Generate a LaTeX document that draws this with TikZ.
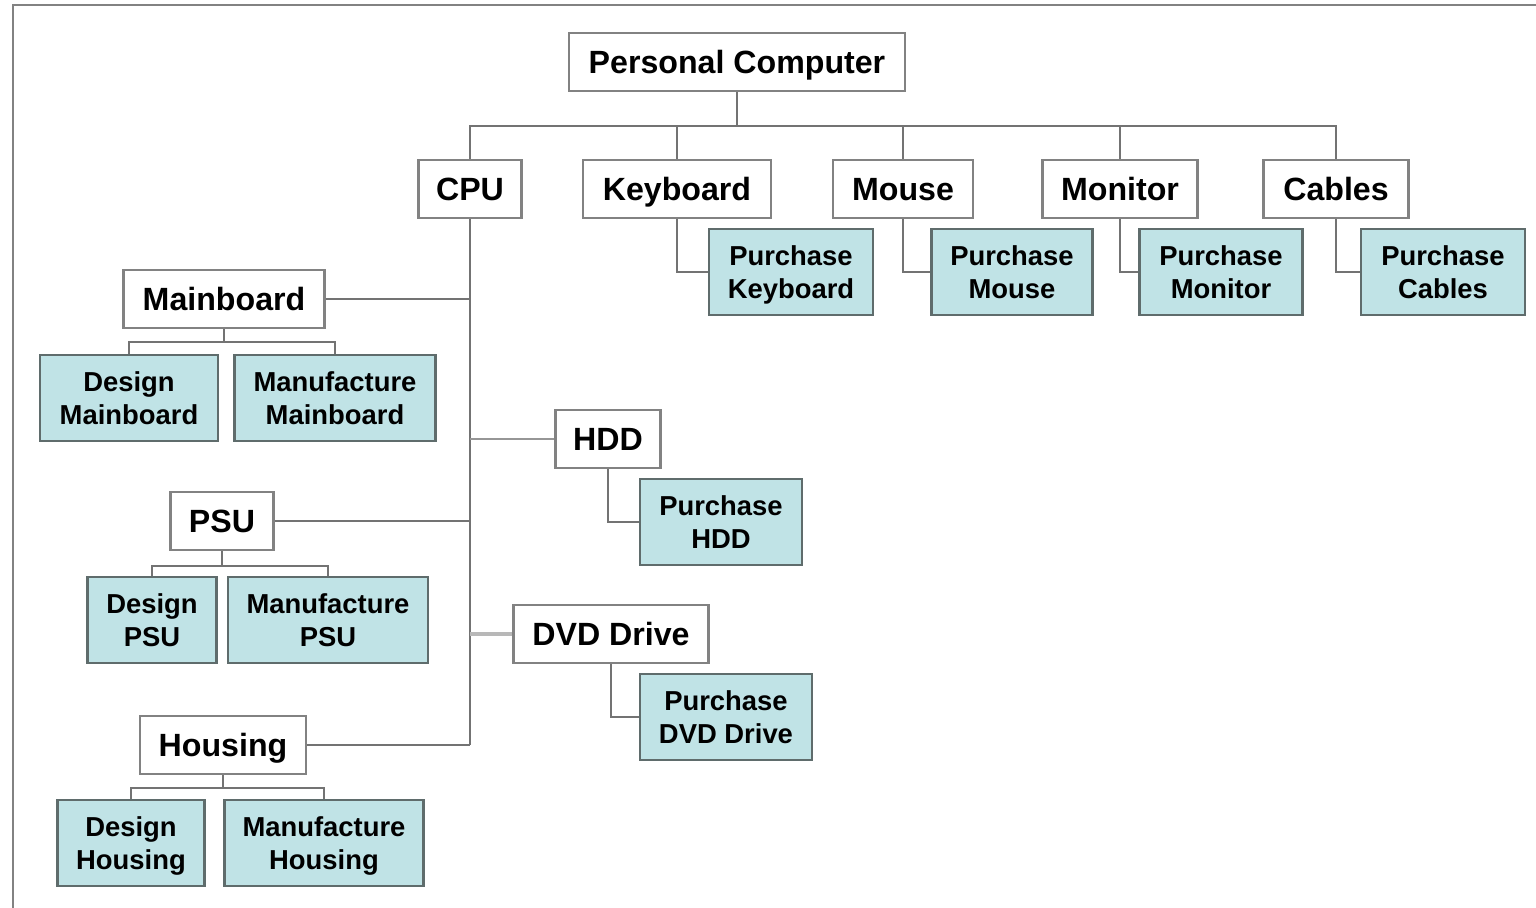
\documentclass[tikz,border=0pt]{standalone}
\usepackage{fontspec}
\setmainfont{Liberation Sans}
\usepackage{xcolor}
\definecolor{linegray}{RGB}{115,115,115}
\definecolor{boxgray}{RGB}{130,130,130}
\definecolor{workfill}{RGB}{192,227,230}
\definecolor{workline}{RGB}{95,108,108}

\begin{document}
\begin{tikzpicture}[x=0.02cm, y=-0.02cm, draw=linegray, line width=1.1pt]
    \tikzstyle{part}=[rectangle, draw=boxgray, fill=white, line width=1.2pt, minimum height=1.16cm, inner sep=2pt, text height=13.1pt, text depth=0pt, font=\fontsize{18.3}{20}\selectfont\bfseries]
    \tikzstyle{work}=[rectangle, draw=workline, fill=workfill, line width=1.2pt, minimum height=1.72cm, inner sep=2pt, align=center, text depth=0pt, font=\fontsize{15.6}{18.8}\selectfont\bfseries]
    \tikzstyle{frame}=[draw=boxgray, line width=1.6pt]

    \useasboundingbox (0,0) rectangle (1536,908);

    % Frame round the chart (only top and left are seen)
    \draw[frame] (13,908) -- (13,5) -- (1536,5);

    % Draw the top product and the first level
    \node[part, minimum width=6.72cm] (pc) at (737,62) {Personal Computer};
    \node[part, minimum width=2.06cm] (cpu) at (470,189) {CPU};
    \node[part, minimum width=3.76cm] (kbd) at (677,189) {Keyboard};
    \node[part, minimum width=2.8cm] (mouse) at (903,189) {Mouse};
    \node[part, minimum width=3.1cm] (mon) at (1120,189) {Monitor};
    \node[part, minimum width=2.9cm] (cab) at (1336,189) {Cables};

    % Draw the purchase work boxes
    \node[work, minimum width=3.28cm] (pkbd) at (791,272) {Purchase\\Keyboard};
    \node[work, minimum width=3.22cm] (pmouse) at (1012,272) {Purchase\\Mouse};
    \node[work, minimum width=3.26cm] (pmon) at (1221,272) {Purchase\\Monitor};
    \node[work, minimum width=3.28cm] (pcab) at (1443,272) {Purchase\\Cables};

    % Draw the parts of the CPU
    \node[part, minimum width=4.02cm] (mb) at (224,299) {Mainboard};
    \node[part, minimum width=2.1cm] (hdd) at (608,439) {HDD};
    \node[part, minimum width=2.06cm] (psu) at (222,521) {PSU};
    \node[part, minimum width=3.9cm] (dvd) at (611,634) {DVD Drive};
    \node[part, minimum width=3.32cm] (hou) at (223,745) {Housing};

    % Draw the work boxes under the CPU parts
    \node[work, minimum width=3.56cm] (dmb) at (129,398) {Design\\Mainboard};
    \node[work, minimum width=4.02cm] (mmb) at (335,398) {Manufacture\\Mainboard};
    \node[work, minimum width=3.24cm] (phdd) at (721,522) {Purchase\\HDD};
    \node[work, minimum width=2.58cm] (dpsu) at (152,620) {Design\\PSU};
    \node[work, minimum width=4.0cm] (mpsu) at (328,620) {Manufacture\\PSU};
    \node[work, minimum width=3.44cm] (pdvd) at (726,717) {Purchase\\DVD Drive};
    \node[work, minimum width=2.94cm] (dhou) at (131,843) {Design\\Housing};
    \node[work, minimum width=3.98cm] (mhou) at (324,843) {Manufacture\\Housing};

    % Connect the top product with the first level
    \foreach \dest in {cpu,kbd,mouse,mon,cab}
        \draw (pc.south) -- ++(0,34) -| (\dest.north);

    % Connect every bought part with its purchase box
    \foreach \source/\dest in {kbd/pkbd,mouse/pmouse,mon/pmon,cab/pcab,hdd/phdd,dvd/pdvd}
        \draw (\source.south) |- (\dest.west);

    % Trunk of the CPU
    \draw (cpu.south) -- (cpu.south |- hou.east);
    \foreach \source in {mb,psu,hou}
        \draw (\source.east) -- (\source.east -| cpu.south);
    \draw[draw=linegray!75] (hdd.west) -- (hdd.west -| cpu.south);
    \draw[draw=black!28, line width=2.2pt] (dvd.west) -- (dvd.west -| cpu.south);

    % Connect the made parts with design and manufacture
    \foreach \source/\drop/\destA/\destB in {mb/13/dmb/mmb,psu/15/dpsu/mpsu,hou/13/dhou/mhou}
    {
        \draw (\source.south) -- ++(0,\drop) -| (\destA.north);
        \draw (\source.south) -- ++(0,\drop) -| (\destB.north);
    }

\end{tikzpicture}
\end{document}
